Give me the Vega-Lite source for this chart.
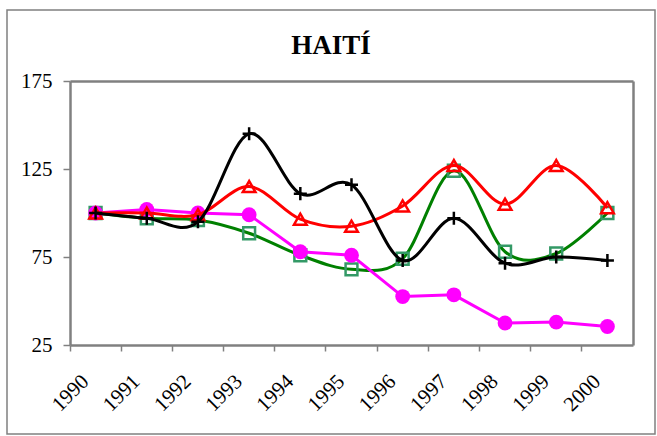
{
  "$schema": "https://vega.github.io/schema/vega-lite/v6.json",
  "width": 648,
  "height": 424,
  "autosize": {"type": "none"},
  "padding": {"left": 7, "top": 10, "right": 2, "bottom": 2},
  "background": "white",
  "title": {"text": "HAITÍ", "font": "Liberation Serif", "fontSize": 27, "fontWeight": "bold", "color": "black", "anchor": "middle", "frame": "group", "offset": -50},
  "config": {
    "view": {"stroke": "#808080", "strokeWidth": 1.5},
    "axis": {"grid": false, "title": null, "labelFont": "Liberation Serif", "labelFontSize": 21, "labelColor": "black", "domainColor": "#808080", "domainWidth": 2.5, "tickColor": "#808080", "tickWidth": 1.5}
  },
  "data": {"values": [
    {"year": "1990", "series": "A", "value": 100},
    {"year": "1991", "series": "A", "value": 97},
    {"year": "1992", "series": "A", "value": 95},
    {"year": "1993", "series": "A", "value": 145},
    {"year": "1994", "series": "A", "value": 111},
    {"year": "1995", "series": "A", "value": 116},
    {"year": "1996", "series": "A", "value": 73},
    {"year": "1997", "series": "A", "value": 97},
    {"year": "1998", "series": "A", "value": 71.5},
    {"year": "1999", "series": "A", "value": 75},
    {"year": "2000", "series": "A", "value": 73},
    {"year": "1990", "series": "B", "value": 100},
    {"year": "1991", "series": "B", "value": 100},
    {"year": "1992", "series": "B", "value": 99},
    {"year": "1993", "series": "B", "value": 115},
    {"year": "1994", "series": "B", "value": 96.5},
    {"year": "1995", "series": "B", "value": 92.5},
    {"year": "1996", "series": "B", "value": 104},
    {"year": "1997", "series": "B", "value": 127},
    {"year": "1998", "series": "B", "value": 105},
    {"year": "1999", "series": "B", "value": 127},
    {"year": "2000", "series": "B", "value": 103},
    {"year": "1990", "series": "C", "value": 100},
    {"year": "1991", "series": "C", "value": 97},
    {"year": "1992", "series": "C", "value": 96},
    {"year": "1993", "series": "C", "value": 88.5},
    {"year": "1994", "series": "C", "value": 76},
    {"year": "1995", "series": "C", "value": 68},
    {"year": "1996", "series": "C", "value": 74},
    {"year": "1997", "series": "C", "value": 124},
    {"year": "1998", "series": "C", "value": 78},
    {"year": "1999", "series": "C", "value": 77},
    {"year": "2000", "series": "C", "value": 100},
    {"year": "1990", "series": "D", "value": 100},
    {"year": "1991", "series": "D", "value": 102},
    {"year": "1992", "series": "D", "value": 100},
    {"year": "1993", "series": "D", "value": 99},
    {"year": "1994", "series": "D", "value": 78},
    {"year": "1995", "series": "D", "value": 76},
    {"year": "1996", "series": "D", "value": 52.5},
    {"year": "1997", "series": "D", "value": 53.5},
    {"year": "1998", "series": "D", "value": 37.5},
    {"year": "1999", "series": "D", "value": 38},
    {"year": "2000", "series": "D", "value": 35.5}
  ]},
  "layer": [
    {
      "encoding": {
        "x": {"field": "year", "type": "ordinal", "scale": {"type": "band", "range": [63, 626], "paddingInner": 0, "paddingOuter": 0},
              "axis": {"orient": "bottom", "offset": -89, "bandPosition": 0, "tickSize": 6, "labelAngle": -45, "labelAlign": "right", "labelBaseline": "middle", "labelPadding": 27, "labelOffset": -10, "labelOverlap": false, "labelBound": false, "labelFlush": false}},
        "y": {"field": "value", "type": "quantitative", "scale": {"domain": [25, 175], "range": [335, 71], "nice": false, "zero": false},
              "axis": {"orient": "left", "offset": -63, "values": [25, 75, 125, 175], "tickSize": 7, "labelPadding": 11}}
      },
      "layer": [
        {"transform": [{"filter": "datum.series == 'C'"}], "mark": {"type": "line", "interpolate": "cardinal", "color": "#008000", "strokeWidth": 3}},
        {"transform": [{"filter": "datum.series == 'C'"}], "mark": {"type": "point", "shape": "square", "size": 140, "filled": false, "color": "#339966", "strokeWidth": 2.5, "opacity": 1}},
        {"transform": [{"filter": "datum.series == 'D'"}], "mark": {"type": "line", "interpolate": "linear", "color": "#FF00FF", "strokeWidth": 3}},
        {"transform": [{"filter": "datum.series == 'D'"}], "mark": {"type": "circle", "size": 220, "color": "#FF00FF", "opacity": 1}},
        {"transform": [{"filter": "datum.series == 'B'"}], "mark": {"type": "line", "interpolate": "cardinal", "color": "#FF0000", "strokeWidth": 3}},
        {"transform": [{"filter": "datum.series == 'B'"}], "mark": {"type": "point", "shape": "triangle-up", "size": 160, "filled": false, "color": "#FF0000", "strokeWidth": 2.5, "opacity": 1}},
        {"transform": [{"filter": "datum.series == 'A'"}], "mark": {"type": "line", "interpolate": "cardinal", "color": "#000000", "strokeWidth": 3}},
        {"transform": [{"filter": "datum.series == 'A'"}], "mark": {"type": "point", "shape": "M-1,0L1,0M0,-1L0,1", "size": 170, "filled": false, "color": "#000000", "strokeWidth": 2.5, "opacity": 1}}
      ]
    },
    {
      "mark": {"type": "point", "opacity": 0},
      "encoding": {
        "x": {"field": "year", "type": "ordinal", "scale": {"type": "band", "range": [63, 626], "paddingInner": 0, "paddingOuter": 0},
              "axis": {"orient": "top", "offset": -71, "labels": false, "ticks": false}},
        "y": {"field": "value", "type": "quantitative", "scale": {"domain": [25, 175], "range": [335, 71], "nice": false, "zero": false},
              "axis": {"orient": "right", "offset": -22, "labels": false, "ticks": false}}
      }
    }
  ],
  "resolve": {"axis": {"x": "independent", "y": "independent"}}
}
